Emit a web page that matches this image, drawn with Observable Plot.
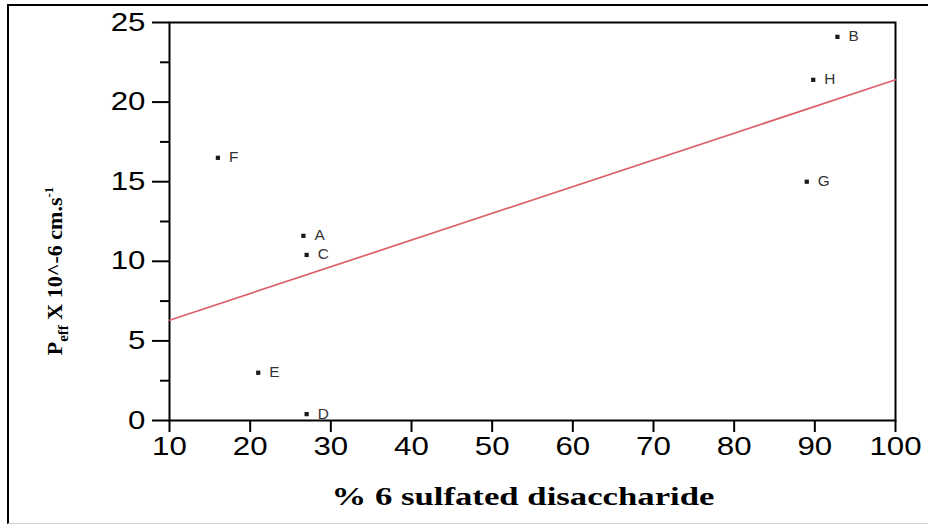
<!DOCTYPE html>
<html>
<head>
<meta charset="utf-8">
<script src="https://cdn.jsdelivr.net/npm/d3@7"></script>
<script src="https://cdn.jsdelivr.net/npm/@observablehq/plot@0.6"></script>
<style>
  html, body { margin: 0; padding: 0; background: #fff; }
  #wrap { position: relative; width: 928px; height: 525px; overflow: hidden; }
  #border { position: absolute; left: 7px; top: 4px; width: 940px; height: 517px;
            border-left: 2px solid #000; border-top: 2px solid #000; border-bottom: 1px solid #d0d0d0; pointer-events: none; }
</style>
</head>
<body>
<div id="wrap"><div id="border"></div></div>
<script>
// Data
const labels   = ["A", "B", "C", "D", "E", "F", "G", "H"];
const sulfated = [26.6, 92.8, 27.0, 27.0, 21.0, 16.0, 89.0, 89.8];   // % 6 sulfated disaccharide
const peff     = [11.6, 24.1, 10.4, 0.4, 3.0, 16.5, 15.0, 21.4];     // Peff x 10^-6 cm/s
const fitX     = [10, 100];
const fitY     = [6.3, 21.4];
const xTicks   = [10, 20, 30, 40, 50, 60, 70, 80, 90, 100];
const yTicks   = [0, 5, 10, 15, 20, 25];
const yMinor   = [2.5, 7.5, 12.5, 17.5, 22.5];

const points = labels.map((l, i) => ({label: l, x: sulfated[i], y: peff[i]}));
const fit = fitX.map((x, i) => ({x, y: fitY[i]}));

const chart = Plot.plot({
  width: 928,
  height: 525,
  marginLeft: 169,
  marginRight: 33,
  marginTop: 22,
  marginBottom: 105,
  style: {fontFamily: "Liberation Sans, Arial, sans-serif", background: "transparent", color: "#000"},
  x: {domain: [10, 100]},
  y: {domain: [0, 25]},
  marks: [
    Plot.frame({stroke: "#000", strokeWidth: 2}),
    Plot.axisY({ticks: yTicks, tickSize: 17, tickPadding: 7, tickFormat: d => String(d), fontSize: 25, strokeWidth: 2, label: null}),
    Plot.axisY({ticks: yMinor, tickSize: 9, text: null, strokeWidth: 2, label: null}),
    Plot.axisX({ticks: xTicks, tickSize: 12, tickPadding: 5, tickFormat: d => String(d), fontSize: 25, strokeWidth: 2, label: null}),
    Plot.line(fit, {x: "x", y: "y", stroke: "#dc5f6a", strokeWidth: 1.7}),
    Plot.dot(points, {x: "x", y: "y", symbol: "square", r: 2.4, fill: "#1a1a1a"}),
    Plot.text(points, {x: "x", y: "y", text: "label", dx: 11, textAnchor: "start", fontSize: 14, fill: "#333"})
  ]
});

document.getElementById("wrap").prepend(chart);

const svg = d3.select(chart);
// Stretch tick labels horizontally to match the reference's wide digits
svg.selectAll("g[aria-label='y-axis tick label'] text, g[aria-label='x-axis tick label'] text").each(function() {
  const t = d3.select(this);
  const tr = t.attr("transform") || "";
  t.attr("transform", tr + " scale(1.25,1)");
});
svg.selectAll("g[aria-label='text'] text").each(function() {
  const t = d3.select(this);
  const tr = t.attr("transform") || "";
  t.attr("transform", tr + " scale(1.1,1)");
});

// X axis title
svg.append("text")
  .attr("x", 523).attr("y", 505)
  .attr("text-anchor", "middle")
  .attr("font-family", "Liberation Serif, Times New Roman, serif")
  .attr("font-weight", "bold")
  .attr("font-size", 26)
  .attr("textLength", 383)
  .attr("lengthAdjust", "spacingAndGlyphs")
  .attr("fill", "#000")
  .text("% 6 sulfated disaccharide");

// Y axis title with subscript / superscript
const yt = svg.append("text")
  .attr("transform", "translate(62,271) rotate(-90)")
  .attr("text-anchor", "middle")
  .attr("font-family", "Liberation Serif, Times New Roman, serif")
  .attr("font-weight", "bold")
  .attr("font-size", 22)
  .attr("fill", "#000");
yt.append("tspan").text("P");
yt.append("tspan").attr("font-size", 15).attr("dy", 6).text("eff");
yt.append("tspan").attr("dy", -6).text(" X 10^-6 cm.s");
yt.append("tspan").attr("font-size", 13).attr("dy", -9).text("-1");
</script>
</body>
</html>
